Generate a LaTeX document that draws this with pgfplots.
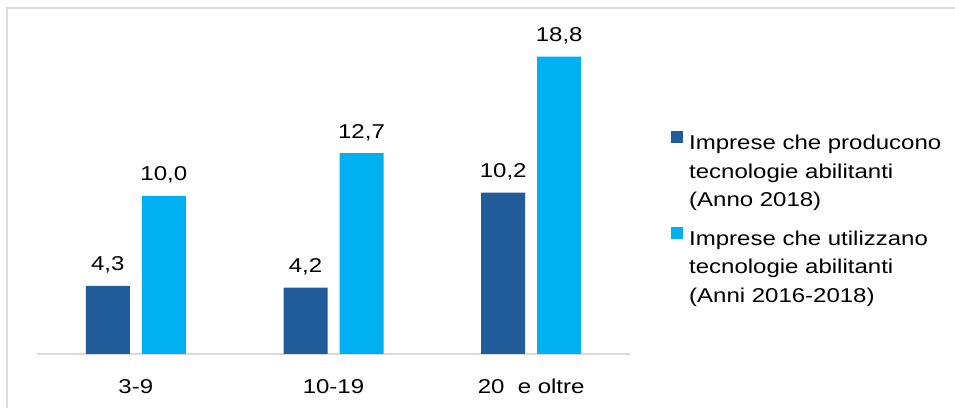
\documentclass[border=0pt]{standalone}
\usepackage{pgfplots}
\pgfplotsset{compat=1.18}
\usepackage{fontspec}
\setmainfont{Liberation Sans}[FakeStretch=1.2]
\definecolor{darkb}{HTML}{1F5C99}
\definecolor{lightb}{HTML}{00B0F0}
\definecolor{frameg}{HTML}{D9D9D9}
\newcommand{\chartfont}{\fontsize{20bp}{28.3bp}\selectfont}
\newcommand{\lentry}[1]{\parbox[t]{262bp}{\raggedright #1}}
\begin{document}
\begin{tikzpicture}
\useasboundingbox (0,0) rectangle (955bp,408bp);
\draw[frameg, line width=1.5bp] (7bp,0) -- (7bp,400bp) -- (955bp,400bp);
\begin{axis}[
  at={(37bp,54bp)}, anchor=south west,
  scale only axis, width=593bp, height=334bp,
  ymin=0, ymax=21.11, xmin=-0.5, xmax=2.5,
  ybar=12bp, bar width=44bp,
  axis x line*=bottom, hide y axis,
  x axis line style={-, frameg, line width=1.5bp},
  xtick={0,1,2}, xticklabels={3-9,10-19,{20\ \ e oltre}},
  major tick length=0pt, xtick style={draw=none},
  xticklabel style={font=\chartfont, anchor=base, yshift=-39bp},
  nodes near coords,
  nodes near coords style={font=\chartfont, anchor=base, yshift=15bp,
    /pgf/number format/.cd, fixed, fixed zerofill, precision=1, use comma,
    assume math mode=true},
  legend style={at={(1.0691,0.667)}, anchor=north west, draw=none, fill=none,
    font=\chartfont, inner sep=0pt, row sep=75.6bp,
    nodes={inner sep=0pt}, column sep=6bp},
  legend cell align=left,
  legend image code/.code={\fill[#1] (0bp,0bp) rectangle (12bp,12bp);},
]
\addplot[fill=darkb, draw=none] coordinates {(0,4.3) (1,4.2) (2,10.2)};
\addlegendentry{\lentry{Imprese che producono\\tecnologie abilitanti\\(Anno 2018)}}
\addplot[fill=lightb, draw=none] coordinates {(0,10.0) (1,12.7) (2,18.8)};
\addlegendentry{\lentry{Imprese che utilizzano\\tecnologie abilitanti\\(Anni 2016-2018)}}
\end{axis}
\end{tikzpicture}
\end{document}
